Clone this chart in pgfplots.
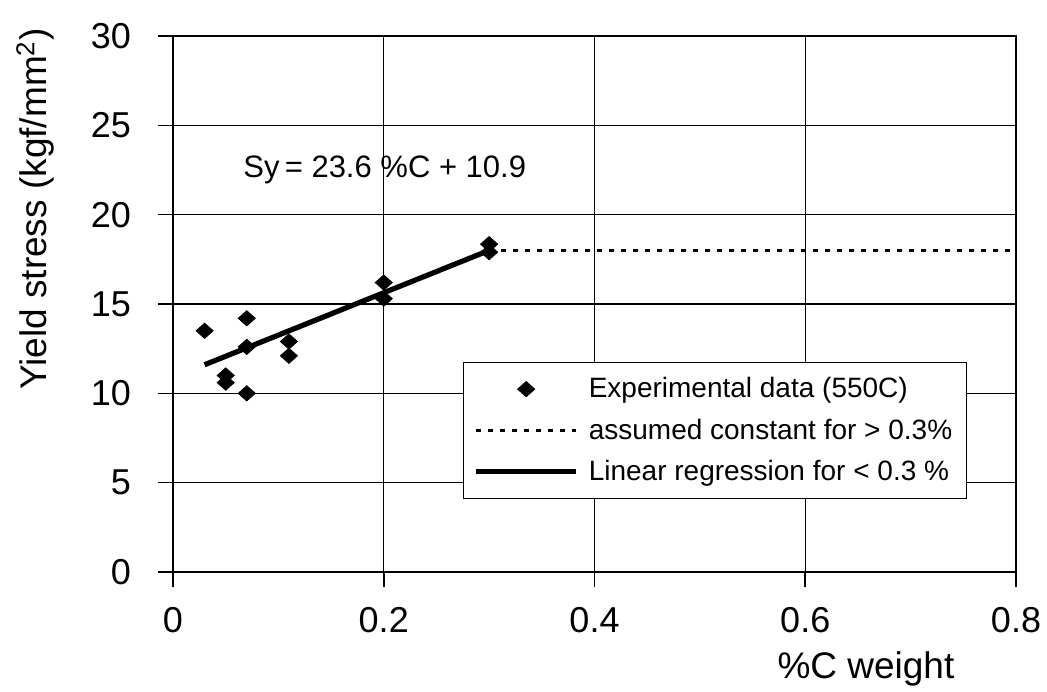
\documentclass[border=0pt]{standalone}
\usepackage{fontspec}
\setmainfont{Liberation Sans}
\usepackage{pgfplots}
\pgfplotsset{compat=1.18}

\begin{document}
\begin{tikzpicture}
\path[use as bounding box] (0,0) rectangle (523.5pt,345.5pt);
\begin{axis}[
  at={(86.5pt,59.5pt)}, anchor=south west,
  scale only axis, width=421.5pt, height=268pt,
  xmin=0, xmax=0.8, ymin=0, ymax=30,
  xtick={0,0.2,...,0.8}, ytick={0,5,...,30},
  xticklabels={0,0.2,0.4,0.6,0.8},
  tick pos=left, tick align=outside,
  major tick length=7.5pt,
  every tick/.style={black, line width=0.8pt},
  axis line style={black, line width=1.3pt},
  grid=major,
  major grid style={black, line width=0.7pt},
  /pgf/number format/assume math mode=true,
  tick label style={font=\fontsize{18}{21}\selectfont},
  yticklabel style={xshift=-10pt},
  xticklabel style={yshift=-6.5pt},
  xlabel={\%C weight},
  ylabel={Yield stress (kgf/mm\textsuperscript{2})},
  label style={font=\fontsize{18.5}{22}\selectfont},
  xlabel style={at={(axis description cs:0.822,-0.198)}, anchor=base},
  ylabel style={at={(axis description cs:-0.1495,0.677)}, anchor=base, rotate=0},
  legend cell align=left,
  legend image code/.code={\draw[mark repeat=2,mark phase=2,#1] plot coordinates {(0pt,0pt) (25pt,0pt) (50pt,0pt)};},
  legend style={at={(0.344,0.392)}, anchor=north west, draw=black, line width=0.6pt,
    fill=white, font=\fontsize{14}{16}\selectfont,
    inner xsep=5pt, inner ysep=5.5pt, row sep=5pt,
    /tikz/every odd column/.append style={column sep=3pt}},
]
% measured yield stress
\addplot[only marks, mark=diamond*, mark size=3.8pt, black,
  mark options={xscale=1.5, line width=0.4pt}] coordinates {
  (0.03,13.5) (0.07,14.2) (0.07,12.6) (0.07,10.0)
  (0.05,11.0) (0.05,10.6) (0.11,12.9) (0.11,12.1)
  (0.2,16.2) (0.2,15.3) (0.3,18.35) (0.3,17.9)
};
\addlegendentry{Experimental data (550C)}
% plateau beyond 0.3 %C
\addplot[black, line width=1.2pt, dash pattern=on 2.5pt off 3.5pt] coordinates {
  (0.3,18.0) (0.8,18.0)
};
\addlegendentry{assumed constant for > 0.3\%}
% fitted line up to 0.3 %C
\addplot[black, line width=2.6pt] coordinates {
  (0.03,11.6) (0.3,18.0)
};
\addlegendentry{Linear regression for < 0.3 \%}
\node[anchor=base west, font=\fontsize{15.5}{18}\selectfont, inner sep=0pt]
  at (axis cs:0.0665,22.1) {Sy\,= 23.6 \%C + 10.9};
\end{axis}
\end{tikzpicture}
\end{document}
